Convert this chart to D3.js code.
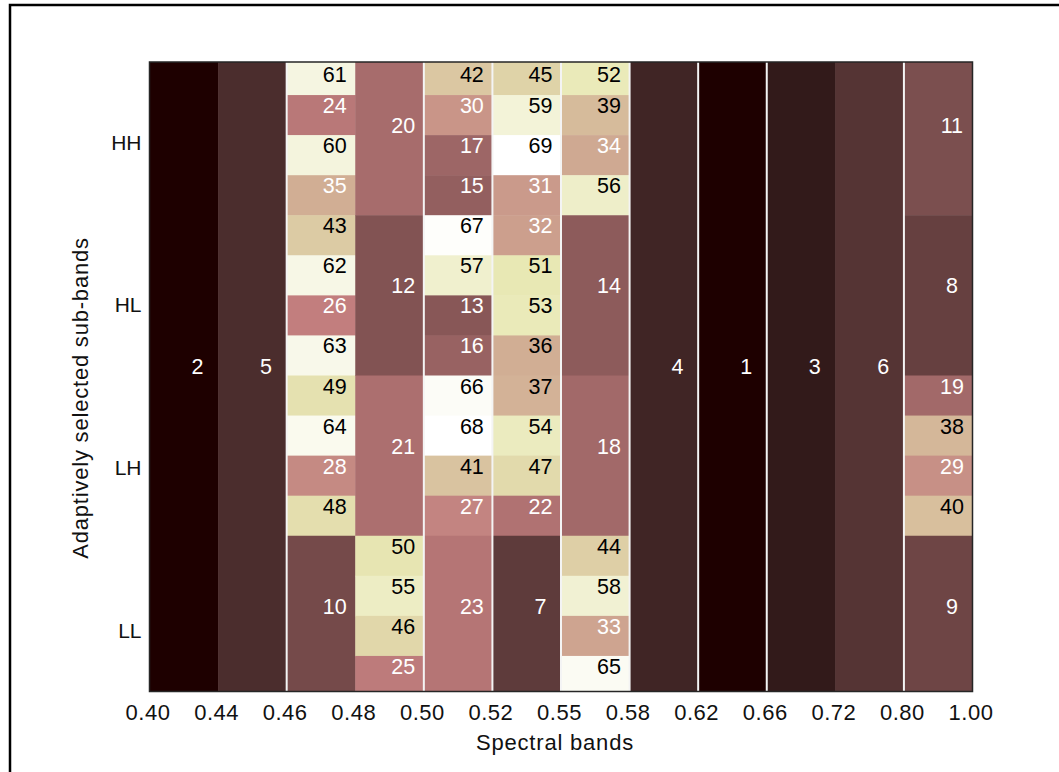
<!DOCTYPE html>
<html>
<head>
<meta charset="utf-8">
<script src="https://cdn.jsdelivr.net/npm/d3@7"></script>
<style>
  html, body { margin: 0; padding: 0; background: #fff; }
  svg { display: block; font-family: "Liberation Sans", Arial, sans-serif; }
</style>
</head>
<body>
<svg id="chart"></svg>
<script>
// Tick labels along the x axis (edges of the spectral bands)
const bandLabels = ["0.40", "0.44", "0.46", "0.48", "0.50", "0.52", "0.55", "0.58", "0.62", "0.66", "0.72", "0.80", "1.00"];
// Sub-band groups along the y axis
const subBands = ["HH", "HL", "LH", "LL"];

// Rank of each selected feature, one list per spectral band, top to bottom
const rankValues = [
  [2],
  [5],
  [61, 24, 60, 35, 43, 62, 26, 63, 49, 64, 28, 48, 10],
  [20, 12, 21, 50, 55, 46, 25],
  [42, 30, 17, 15, 67, 57, 13, 16, 66, 68, 41, 27, 23],
  [45, 59, 69, 31, 32, 51, 53, 36, 37, 54, 47, 22, 7],
  [52, 39, 34, 56, 14, 18, 44, 58, 33, 65],
  [4],
  [1],
  [3],
  [6],
  [11, 8, 19, 38, 29, 40, 9]
];
// How many of the 16 sub-band rows each rank covers
const rankSpans = [
  [16],
  [16],
  [1, 1, 1, 1, 1, 1, 1, 1, 1, 1, 1, 1, 4],
  [4, 4, 4, 1, 1, 1, 1],
  [1, 1, 1, 1, 1, 1, 1, 1, 1, 1, 1, 1, 4],
  [1, 1, 1, 1, 1, 1, 1, 1, 1, 1, 1, 1, 4],
  [1, 1, 1, 1, 4, 4, 1, 1, 1, 1],
  [16],
  [16],
  [16],
  [16],
  [4, 4, 1, 1, 1, 1, 4]
];
// band edges that carry a white separator line
const separatorEdges = [2, 4, 5, 6, 7, 8, 9, 11];

const width = 1059, height = 772;
const svg = d3.select("#chart").attr("width", width).attr("height", height);

// axes box
const axLeft = 149.5, axRight = 972.5, axTop = 62, axBottom = 691.5;

// MATLAB "pink" colormap, 64 entries
function pinkMap(m) {
  const n = Math.floor(3 / 8 * m);
  const out = [];
  for (let i = 0; i < m; i++) {
    const g = i / (m - 1);
    const hr = i < n ? (i + 1) / n : 1;
    const hg = i < n ? 0 : (i < 2 * n ? (i - n + 1) / n : 1);
    const hb = i < 2 * n ? 0 : (i - 2 * n + 1) / (m - 2 * n);
    const f = v => Math.round(255 * Math.sqrt((2 * g + v) / 3));
    out.push(`rgb(${f(hr)},${f(hg)},${f(hb)})`);
  }
  return out;
}
const cmap = pinkMap(64);
const allValues = rankValues.flat();
const vMin = d3.min(allValues), vMax = d3.max(allValues);
const color = v => cmap[Math.min(63, Math.floor((v - vMin) / (vMax - vMin) * 64))];

// scales
const x = d3.scaleLinear().domain([0, bandLabels.length - 1]).range([axLeft, axRight]);
const y = d3.scaleLinear().domain([0, 16]).range([55, 696]);
const yGroup = d3.scaleBand().domain(subBands).range([61.6, 712.4]);

// build cells
const cells = [];
rankValues.forEach((vals, c) => {
  let r = 0;
  vals.forEach((v, k) => {
    const s = rankSpans[c][k];
    cells.push({ col: c, row0: r, row1: r + s, value: v });
    r += s;
  });
});

svg.append("defs").append("clipPath").attr("id", "ax-clip")
  .append("rect")
  .attr("x", axLeft).attr("y", axTop)
  .attr("width", axRight - axLeft).attr("height", axBottom - axTop);

const plot = svg.append("g").attr("clip-path", "url(#ax-clip)");

plot.selectAll("rect.cell")
  .data(cells)
  .enter()
  .append("rect")
  .attr("class", "cell")
  .attr("x", d => x(d.col))
  .attr("y", d => y(d.row0))
  .attr("width", d => x(d.col + 1) - x(d.col) + 0.5)
  .attr("height", d => y(d.row1) - y(d.row0) + 0.5)
  .attr("fill", d => color(d.value));

// white separators
plot.selectAll("line.sep")
  .data(separatorEdges)
  .enter()
  .append("line")
  .attr("x1", d => x(d)).attr("x2", d => x(d))
  .attr("y1", axTop).attr("y2", axBottom)
  .attr("stroke", "#f4f4f4")
  .attr("stroke-width", 2);

// cell labels
svg.append("g").selectAll("text")
  .data(cells)
  .enter()
  .append("text")
  .attr("x", d => x(d.col + 0.7))
  .attr("y", d => Math.max(axTop + 12.5, (y(d.row0) + y(d.row1)) / 2 - 9.5))
  .attr("dy", "0.35em")
  .attr("text-anchor", "middle")
  .attr("font-size", 21.5)
  .attr("fill", d => d.value <= 35 ? "#fff" : "#000")
  .text(d => d.value);

// axes box
svg.append("rect")
  .attr("x", axLeft).attr("y", axTop)
  .attr("width", axRight - axLeft).attr("height", axBottom - axTop)
  .attr("fill", "none")
  .attr("stroke", "#262626")
  .attr("stroke-width", 1.5);

// x axis
const xAxis = svg.append("g")
  .attr("transform", `translate(0,${axBottom})`)
  .call(d3.axisBottom(x)
    .tickValues(d3.range(bandLabels.length))
    .tickFormat(i => bandLabels[i])
    .tickSize(0)
    .tickPadding(13));
xAxis.select(".domain").remove();
xAxis.selectAll("text")
  .attr("font-size", 22)
  .attr("letter-spacing", 0.5)
  .attr("font-family", "Liberation Sans, Arial, sans-serif")
  .attr("fill", "#111")
  .attr("dx", -2);

// y axis
const yAxis = svg.append("g")
  .attr("transform", `translate(${axLeft - 8},0)`)
  .call(d3.axisLeft(yGroup).tickSize(0).tickPadding(0));
yAxis.select(".domain").remove();
yAxis.selectAll("text")
  .attr("font-size", 21)
  .attr("font-family", "Liberation Sans, Arial, sans-serif")
  .attr("fill", "#111");

// axis titles
svg.append("text")
  .attr("x", 555).attr("y", 750)
  .attr("text-anchor", "middle")
  .attr("font-size", 22)
  .attr("letter-spacing", 0.8)
  .attr("fill", "#111")
  .text("Spectral bands");

svg.append("text")
  .attr("transform", "translate(88,398) rotate(-90)")
  .attr("text-anchor", "middle")
  .attr("font-size", 22)
  .attr("letter-spacing", 0.8)
  .attr("fill", "#111")
  .text("Adaptively selected sub-bands");

// outer frame
svg.append("path")
  .attr("d", `M10,${height} V5 H${width}`)
  .attr("fill", "none")
  .attr("stroke", "#000")
  .attr("stroke-width", 2.5);
</script>
</body>
</html>
